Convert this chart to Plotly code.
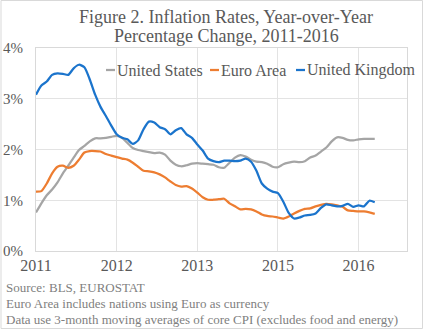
import plotly.graph_objects as go

month_index = list(range(64))
tick_positions = [0, 15, 30, 45, 60]
tick_labels = ["2011", "2012", "2013", "2015", "2016"]

united_states = [0.76, 0.94, 1.10, 1.21, 1.35, 1.53, 1.68, 1.84, 1.99, 2.07,
                 2.16, 2.22, 2.22, 2.23, 2.25, 2.27, 2.23, 2.13, 2.03, 1.99,
                 1.97, 1.95, 1.93, 1.94, 1.90, 1.78, 1.70, 1.67, 1.69, 1.72,
                 1.73, 1.72, 1.71, 1.70, 1.65, 1.64, 1.74, 1.84, 1.89, 1.86,
                 1.80, 1.76, 1.75, 1.72, 1.66, 1.65, 1.71, 1.74, 1.76, 1.75,
                 1.77, 1.84, 1.88, 1.96, 2.04, 2.16, 2.24, 2.23, 2.19, 2.18,
                 2.20, 2.21, 2.21, 2.21]
euro_area = [1.17, 1.18, 1.33, 1.53, 1.66, 1.68, 1.64, 1.68, 1.80, 1.94,
             1.97, 1.97, 1.96, 1.91, 1.88, 1.85, 1.82, 1.80, 1.74, 1.66,
             1.58, 1.57, 1.55, 1.51, 1.45, 1.37, 1.30, 1.27, 1.28, 1.23,
             1.15, 1.06, 1.01, 1.01, 1.02, 1.03, 0.94, 0.88, 0.82, 0.83,
             0.82, 0.78, 0.72, 0.69, 0.68, 0.66, 0.64, 0.68, 0.74, 0.79,
             0.83, 0.84, 0.88, 0.91, 0.93, 0.92, 0.90, 0.87, 0.80, 0.79,
             0.78, 0.78, 0.76, 0.73]
united_kingdom = [3.08, 3.26, 3.34, 3.47, 3.50, 3.49, 3.47, 3.60, 3.67, 3.62,
                  3.38, 3.08, 2.84, 2.66, 2.47, 2.30, 2.23, 2.20, 2.11, 2.18,
                  2.40, 2.55, 2.53, 2.44, 2.40, 2.30, 2.38, 2.42, 2.30, 2.23,
                  2.10, 1.98, 1.82, 1.77, 1.75, 1.78, 1.78, 1.77, 1.78, 1.82,
                  1.76, 1.58, 1.33, 1.23, 1.17, 1.14, 0.97, 0.75, 0.64, 0.66,
                  0.70, 0.71, 0.74, 0.85, 0.92, 0.90, 0.88, 0.89, 0.93, 0.87,
                  0.90, 0.88, 0.99, 0.96]

series_names = ["United States", "Euro Area", "United Kingdom"]
series_colors = ["#A5A5A5", "#ED7D31", "#1B74CC"]
series_values = [united_states, euro_area, united_kingdom]

title_lines = ["Figure 2. Inflation Rates, Year-over-Year", "Percentage Change, 2011-2016"]
notes = ["Source: BLS, EUROSTAT",
         "Euro Area includes nations using Euro as currency",
         "Data use 3-month moving averages of core CPI (excludes food and energy)"]

SERIF = "Liberation Serif"
TEXT = "#595959"

fig = go.Figure()
for name, color, vals in zip(series_names, series_colors, series_values):
    fig.add_trace(go.Scatter(x=month_index, y=vals, mode="lines", name=name,
                             line=dict(color=color, width=2.25, shape="spline", smoothing=0.6),
                             showlegend=False))

L, R, T, B = 36, 20, 48, 79
W, H = 427, 330
pw, ph = W - L - R, H - T - B

def px(xpix):
    return (xpix - L) / pw

def py(ypix):
    return (H - B - ypix) / ph

annotations = []
shapes = []
for i, line in enumerate(title_lines):
    annotations.append(dict(text=line, x=px(226), y=py(17 + 19 * i), xref="paper", yref="paper",
                            showarrow=False, xanchor="center", yanchor="middle",
                            font=dict(family=SERIF, size=18, color=TEXT)))
legend_x = [106, 210, 296]
for name, color, lx in zip(series_names, series_colors, legend_x):
    shapes.append(dict(type="line", xref="paper", yref="paper",
                       x0=px(lx), x1=px(lx + 9), y0=py(70), y1=py(70),
                       line=dict(color=color, width=2.25)))
    annotations.append(dict(text=name, x=px(lx + 9), y=py(70), xref="paper", yref="paper",
                            showarrow=False, xanchor="left", yanchor="middle",
                            font=dict(family=SERIF, size=16, color=TEXT)))
for i, note in enumerate(notes):
    annotations.append(dict(text=note, x=px(4), y=py(287 + 16 * i), xref="paper", yref="paper",
                            showarrow=False, xanchor="left", yanchor="middle",
                            font=dict(family=SERIF, size=13, color="#808080")))

shapes.append(dict(type="rect", xref="paper", yref="paper",
                   x0=px(1), x1=px(422.5), y0=py(328.5), y1=py(0.5),
                   line=dict(color="#D9D9D9", width=1)))

fig.update_layout(
    width=W, height=H,
    margin=dict(l=L, r=R, t=T, b=B, autoexpand=False),
    paper_bgcolor="white", plot_bgcolor="white",
    annotations=annotations,
    shapes=shapes,
    xaxis=dict(range=[0, 69], tickvals=tick_positions, ticktext=tick_labels,
               showgrid=True, gridcolor="#E3E3E3", gridwidth=1,
               showline=True, linecolor="#D9D9D9", mirror=True,
               ticks="", zeroline=False, automargin=False,
               tickfont=dict(family=SERIF, size=16, color=TEXT)),
    yaxis=dict(range=[0, 4], tickvals=[0, 1, 2, 3, 4], ticktext=["0%", "1%", "2%", "3%", "4%"],
               showgrid=True, gridcolor="#E3E3E3", gridwidth=1,
               showline=True, linecolor="#D9D9D9", mirror=True,
               ticks="", zeroline=False, automargin=False, ticklabelstandoff=9,
               tickfont=dict(family=SERIF, size=15, color=TEXT)),
)

fig.write_html("out.html")
